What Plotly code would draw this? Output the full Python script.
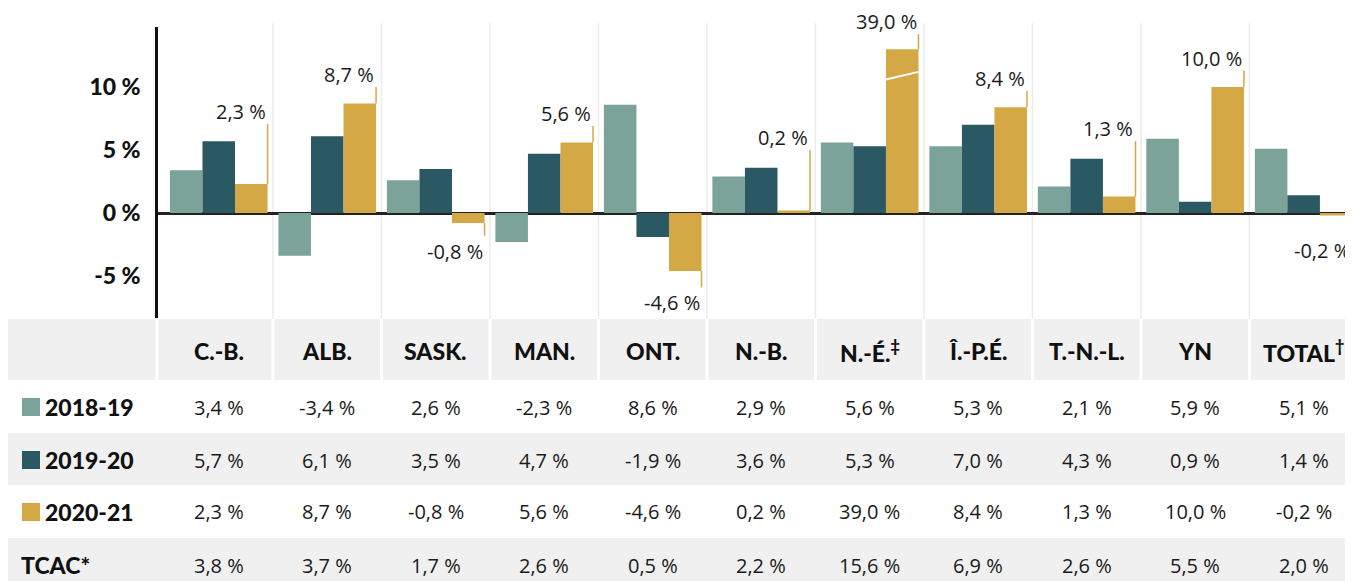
import plotly.graph_objects as go

# data
PROVINCES = ["C.-B.", "ALB.", "SASK.", "MAN.", "ONT.", "N.-B.", "N.-É.", "Î.-P.É.", "T.-N.-L.", "YN", "TOTAL"]
HEADER_TEXT = ["C.-B.", "ALB.", "SASK.", "MAN.", "ONT.", "N.-B.", "N.-É.<sup>‡</sup>",
               "Î.-P.É.", "T.-N.-L.", "YN", "TOTAL<sup>†</sup>"]
SERIES = ["2018-19", "2019-20", "2020-21"]
Y_2018_19 = [3.4, -3.4, 2.6, -2.3, 8.6, 2.9, 5.6, 5.3, 2.1, 5.9, 5.1]
Y_2019_20 = [5.7, 6.1, 3.5, 4.7, -1.9, 3.6, 5.3, 7.0, 4.3, 0.9, 1.4]
Y_2020_21 = [2.3, 8.7, -0.8, 5.6, -4.6, 0.2, 39.0, 8.4, 1.3, 10.0, -0.2]
TCAC = [3.8, 3.7, 1.7, 2.6, 0.5, 2.2, 15.6, 6.9, 2.6, 5.5, 2.0]
YTICKS = [-5, 0, 5, 10]

# layout / style
COLORS = ["#7ba399", "#2a5863", "#d4a845"]
GRAY = "#f0f0f0"
BOLD = dict(family="Lato, Roboto, sans-serif", size=23, color="#111", weight=900)
REG = dict(family="Open Sans, Noto Sans, sans-serif", size=20, color="#1a1a1a")
BAR_CAP = 13.0          # axis break for bars that run off the chart
LABEL_Y = [7.06, 10.0, -1.8, 6.9, -5.9, 5.0, 14.2, 9.7, 5.7, 11.3, -1.75]

# the page body has an 8px margin, so the figure is drawn 8px in from the corner
OFF = 8
W, H = 1353 - OFF, 581 - OFF
PLOT_L, PLOT_R, PLOT_T, PLOT_B = 158, 1353, 27, 318
X_RANGE = [-0.56, 10.455]
Y_RANGE = [-8.333, 14.762]


def px_x(px):
    return (px - PLOT_L) / (PLOT_R - PLOT_L)


def px_y(py):
    return (PLOT_B - py) / (PLOT_B - PLOT_T)


def cat_x(v):
    return (v - X_RANGE[0]) / (X_RANGE[1] - X_RANGE[0])


def fmt(v):
    return f"{v:.1f}".replace(".", ",") + " %"


xs = list(range(len(PROVINCES)))
fig = go.Figure()
for name, vals, col in zip(SERIES, [Y_2018_19, Y_2019_20, Y_2020_21], COLORS):
    fig.add_trace(go.Bar(
        x=xs, y=[min(v, BAR_CAP) for v in vals], name=name,
        marker=dict(color=col, line_width=0), hoverinfo="skip",
    ))

shapes = []
annotations = []

# vertical gridlines between provinces
for i in xs[:-1]:
    shapes.append(dict(type="line", xref="paper", yref="paper",
                       x0=cat_x(i + 0.5), x1=cat_x(i + 0.5), y0=px_y(319), y1=px_y(23),
                       line=dict(color="#ececec", width=1.5), layer="below"))

# 2020-21 value labels with leader lines
for i, (v, ly) in enumerate(zip(Y_2020_21, LABEL_Y)):
    edge = i + 0.45
    shapes.append(dict(type="line", xref="x", yref="y", x0=edge, x1=edge,
                       y0=min(v, BAR_CAP), y1=ly, line=dict(color=COLORS[2], width=1.5)))
    annotations.append(dict(
        x=edge, y=ly, xref="x", yref="y", text=fmt(v), showarrow=False,
        xanchor="right", yanchor="bottom" if v >= 0 else "top",
        yshift=-3 if v >= 0 else 0, font=REG,
    ))
    if v > BAR_CAP:
        shapes.append(dict(type="line", xref="x", yref="y", x0=i + 0.15, x1=i + 0.45,
                           y0=10.6, y1=11.2, line=dict(color="white", width=2)))

# table backgrounds
bands = [(319, 380, GRAY), (380, 433, "white"), (433, 485, GRAY), (485, 538, "white"), (538, 595, GRAY)]
for top, bot, col in bands:
    shapes.append(dict(type="rect", xref="paper", yref="paper", x0=px_x(8), x1=px_x(1360),
                       y0=px_y(bot), y1=px_y(top), fillcolor=col, line_width=0, layer="below"))
for xp in [px_x(157)] + [cat_x(i + 0.5) for i in xs[:-1]]:
    shapes.append(dict(type="line", xref="paper", yref="paper", x0=xp, x1=xp,
                       y0=px_y(380), y1=px_y(319), line=dict(color="white", width=3),
                       layer="below"))

# header
for i, t in enumerate(HEADER_TEXT):
    annotations.append(dict(x=cat_x(i), y=px_y(351), xref="paper", yref="paper", text=t,
                            showarrow=False, xanchor="center", yanchor="middle", font=BOLD))

# rows
row_y = [407, 460, 512, 565]
rows = [Y_2018_19, Y_2019_20, Y_2020_21, TCAC]
labels = SERIES + ["TCAC*"]
for r, (yc, vals, lab) in enumerate(zip(row_y, rows, labels)):
    if r < 3:
        shapes.append(dict(type="rect", xref="paper", yref="paper", x0=px_x(22), x1=px_x(40),
                           y0=px_y(yc + 9), y1=px_y(yc - 9), fillcolor=COLORS[r], line_width=0))
        lx = px_x(43)
    else:
        lx = px_x(19)
    annotations.append(dict(x=lx, y=px_y(yc), xref="paper", yref="paper", text=lab,
                            showarrow=False, xanchor="left", yanchor="middle", font=BOLD))
    for i, v in enumerate(vals):
        annotations.append(dict(x=cat_x(i), y=px_y(yc), xref="paper", yref="paper", text=fmt(v),
                                showarrow=False, xanchor="center", yanchor="middle", font=REG))

fig.update_layout(
    width=W, height=H, autosize=False,
    margin=dict(l=PLOT_L - OFF, r=W + OFF - PLOT_R, t=PLOT_T - OFF, b=H + OFF - PLOT_B, pad=0),
    paper_bgcolor="white", plot_bgcolor="white",
    barmode="group", bargap=0.1, bargroupgap=0,
    showlegend=False,
    shapes=shapes, annotations=annotations,
    xaxis=dict(range=X_RANGE, showticklabels=False, showgrid=False, zeroline=False,
               showline=False, fixedrange=True),
    yaxis=dict(range=Y_RANGE, tickvals=YTICKS, ticktext=[f"{t} %" for t in YTICKS],
               tickfont=BOLD, showgrid=False, zeroline=True, zerolinecolor="#222",
               zerolinewidth=3, showline=True, linecolor="#111", linewidth=2.5,
               ticks="", ticklabelstandoff=10, fixedrange=True),
)

fig.write_html("out.html")
